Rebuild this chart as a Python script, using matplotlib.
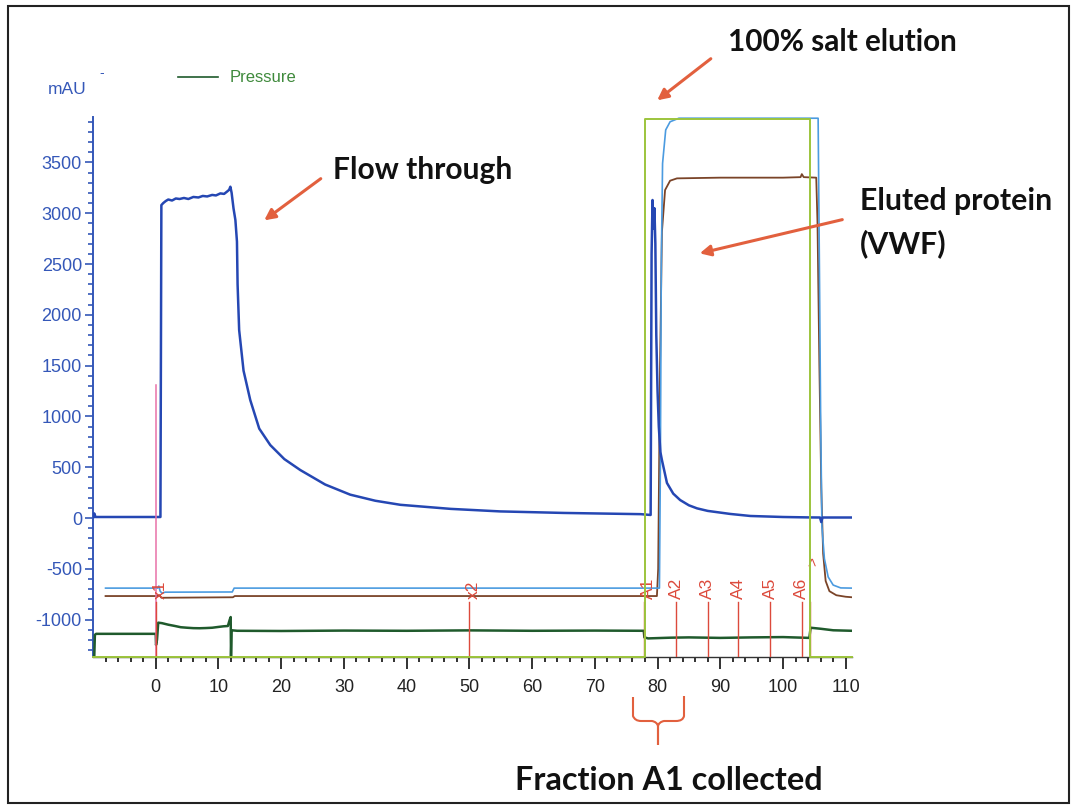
import matplotlib
matplotlib.use("Agg")
import matplotlib.pyplot as plt
from matplotlib.patches import FancyArrowPatch, PathPatch, Rectangle
from matplotlib.path import Path
from matplotlib.lines import Line2D

plt.rcParams["axes.unicode_minus"] = False

# ---------------- chromatogram traces (x in ml, y in mAU scale) ----------------
uv_time = [-9.9, -9.8, -9.6, 0.75, 0.9, 1.2, 1.6, 2.0, 2.6, 3.2, 3.8, 4.5, 5.2, 6.0,
           6.8, 7.5, 8.2, 9.0, 9.6, 10.3, 10.9, 11.35, 11.7, 11.9, 12.1, 12.4, 12.7,
           12.95, 13.05, 13.3, 14.0, 15.07, 16.5, 18.26, 20.5, 23.05, 27.0, 31.0,
           35.0, 39.0, 47.0, 54.9, 65.0, 77.3, 78.9, 79.05, 79.2, 79.35, 79.5, 79.65,
           79.8, 80.0, 80.2, 80.45, 80.7, 81.5, 82.5, 83.6, 85.0, 86.3, 88.0, 91.6,
           94.8, 100.0, 104.0, 105.9, 106.1, 106.3, 111.0]
uv_mau = [10, 45, 10, 10, 3080, 3100, 3120, 3135, 3125, 3145, 3140, 3150, 3140, 3160,
          3155, 3170, 3165, 3180, 3175, 3195, 3190, 3212, 3230, 3261, 3200, 3048, 2933,
          2720, 2300, 1850, 1450, 1161, 880, 718, 580, 472, 330, 230,
          170, 130, 90, 65, 50, 38, 30, 2600, 3130, 2850, 3050, 2700,
          1800, 1250, 900, 650, 570, 345, 240, 177, 125, 95, 70, 40,
          20, 10, 6, 5, -40, 5, 5]

cond_time = [-8.0, 0.3, 0.5, 0.7, 1.0, 1.5, 12.2, 12.5, 80.3, 80.45, 80.6, 80.8, 81.3,
             82.0, 83.4, 105.6, 105.8, 106.0, 106.2, 106.6, 107.2, 108.0, 109.2, 111.0]
cond_mau = [-690, -690, -670, -720, -740, -730, -728, -690, -690, 500, 2500, 3490, 3820,
            3900, 3935, 3935, 2500, 1000, -80, -400, -580, -660, -688, -690]

ph_time = [-8.0, 0.3, 0.6, 0.9, 12.3, 12.6, 79.9, 80.1, 80.4, 80.7, 81.2, 82.0, 83.1,
           90.0, 100.0, 102.8, 103.0, 103.3, 105.3, 105.5, 105.8, 106.1, 106.4, 106.8,
           107.4, 108.5, 110.0, 111.0]
ph_mau = [-768, -768, -760, -785, -780, -768, -768, -500, 1500, 2818, 3228, 3320, 3343,
          3350, 3350, 3355, 3385, 3355, 3350, 2900, 1500, 300, -350, -620,
          -720, -760, -775, -780]

pressure_time = [-9.8, -9.7, -9.5, 0.0, 0.05, 0.2, 0.4, 1.0, 2.0, 3.0, 4.0, 5.0, 6.0,
                 7.0, 8.0, 9.0, 10.0, 10.8, 11.5, 11.8, 11.95, 12.0, 12.1, 13.0, 20.0,
                 30.0, 40.0, 50.0, 60.0, 70.0, 77.8, 77.9, 78.5, 82.0, 85.0, 90.0, 95.0,
                 100.0, 104.2, 104.4, 106.0, 108.0, 111.0]
pressure_val = [-1368, -1150, -1140, -1140, -1250, -1200, -1030, -1035, -1050, -1062,
                -1075, -1080, -1084, -1085, -1083, -1080, -1072, -1066, -1063, -1000,
                -975, -1360, -1105, -1110, -1112, -1108, -1110, -1106, -1110, -1108,
                -1110, -1175, -1185, -1178, -1175, -1180, -1175, -1172, -1180, -1080,
                -1090, -1105, -1110]

conc_time = [-10.0, 77.95, 77.95, 104.3, 104.3, 111.0]
conc_pct = [0, 0, 100, 100, 0, 0]

frac_pos = [77.8, 83.0, 88.0, 92.9, 98.0, 103.0]
frac_labels = ["A1", "A2", "A3", "A4", "A5", "A6"]
waste_pos = 104.3
inject_marks = [0.0, 50.0]
inject_labels = ["x1", "x2"]

x_ticks = [0, 10, 20, 30, 40, 50, 60, 70, 80, 90, 100, 110]
y_ticks = [-1000, -500, 0, 500, 1000, 1500, 2000, 2500, 3000, 3500]

# ---------------- colours ----------------
C_UV = "#2547b3"
C_COND = "#4b9be0"
C_PH = "#7a4428"
C_PRESS = "#1f5a2c"
C_CONC = "#9cc43c"
C_FRAC = "#dc4a3c"
C_INJ = "#e872a8"
C_AXIS = "#3457b8"
C_NOTE = "#e2603e"

W, H = 1075, 809
fig = plt.figure(figsize=(W / 100, H / 100), dpi=100)
fig.patch.set_facecolor("white")


def fx(px):
    return px / W


def fy(py):
    return 1 - py / H


YMIN, YMAX = -1368, 3947
XMIN, XMAX = -10, 111

ax = fig.add_axes([fx(93), fy(657), (852 - 93) / W, (657 - 117) / H])
ax.set_xlim(XMIN, XMAX)
ax.set_ylim(YMIN, YMAX)
ax.set_facecolor("none")

for s in ("top", "right"):
    ax.spines[s].set_visible(False)
ax.spines["left"].set_color(C_AXIS)
ax.spines["left"].set_linewidth(1.4)
ax.spines["bottom"].set_color("#333333")
ax.spines["bottom"].set_linewidth(1.0)

ax.set_yticks(y_ticks)
ax.set_yticks(range(-1300, 3950, 100), minor=True)
ax.set_xticks(x_ticks)
ax.set_xticks(range(-8, 111, 2), minor=True)
ax.tick_params(axis="y", which="major", length=6, width=1.2, color=C_AXIS,
               labelcolor=C_AXIS, labelsize=13, pad=2)
ax.tick_params(axis="y", which="minor", length=3.5, width=1.2, color=C_AXIS)
ax.tick_params(axis="x", which="major", length=8.5, width=1.3, color="#222222",
               labelcolor="#222222", labelsize=13, pad=7)
ax.tick_params(axis="x", which="minor", length=3.5, width=1.3, color="#222222")
for lab in ax.get_xticklabels() + ax.get_yticklabels():
    lab.set_fontfamily("Liberation Sans")

# concentration step on its own 0-100 % scale
axc = ax.twinx()
axc.set_ylim(0, 100.3)
axc.axis("off")
axc.plot(conc_time, conc_pct, color=C_CONC, lw=1.4, clip_on=False, zorder=2)

# traces
ax.plot(pressure_time, pressure_val, color=C_PRESS, lw=1.8, zorder=3)
ax.plot(ph_time, ph_mau, color=C_PH, lw=1.3, zorder=3)
ax.plot(cond_time, cond_mau, color=C_COND, lw=1.2, zorder=4)
ax.plot(uv_time, uv_mau, color=C_UV, lw=1.8, zorder=5)

# fraction marks
for pos, lab in zip(frac_pos, frac_labels):
    ax.plot([pos, pos], [YMIN, -830], color=C_FRAC, lw=1.0, zorder=6)
    dx = 0.75 if lab == "A1" else 0.0
    ax.text(pos + dx, -800, lab, rotation=90, ha="center", va="bottom",
            color=C_FRAC, fontsize=12.5, fontfamily="Liberation Sans", zorder=7)
ax.plot([waste_pos, waste_pos], [YMIN, -830], color=C_FRAC, lw=1.0, zorder=6)
ax.text(waste_pos + 0.6, -470, ">", rotation=90, ha="center", va="bottom",
        color=C_FRAC, fontsize=11, fontfamily="Liberation Sans", zorder=7)

# injection marks
ax.plot([inject_marks[0]] * 2, [YMIN, 1310], color=C_INJ, lw=1.1, zorder=6)
for pos, lab in zip(inject_marks, inject_labels):
    ax.plot([pos, pos], [YMIN, -830], color=C_FRAC, lw=1.0, zorder=6)
    ax.text(pos + 0.7, -800, lab, rotation=90, ha="center", va="bottom",
            color=C_FRAC, fontsize=12.5, fontfamily="Liberation Sans", zorder=7)

# header: unit and legend
fig.text(fx(48), fy(90), "mAU", color=C_AXIS, fontsize=12.5,
         fontfamily="Liberation Sans", va="center", ha="left")
fig.text(fx(99), fy(73), "-", color=C_AXIS, fontsize=10,
         fontfamily="Liberation Sans", va="center", ha="left")
fig.add_artist(Line2D([fx(178), fx(218)], [fy(77), fy(77)], color=C_PRESS, lw=1.2))
fig.text(fx(230), fy(77), "Pressure", color="#3f8a3c", fontsize=12,
         fontfamily="Liberation Sans", va="center", ha="left")

# annotations, each sized to span its left..right pixel extent
renderer = fig.canvas.get_renderer()
NOTE_FONT = dict(fontfamily="Lato", fontweight="bold", color="#111111",
                 fontsize=20, va="center", ha="left")
notes = [("Flow through", 333, 512, 170),
         ("100% salt elution", 728, 957, 42),
         ("Eluted protein", 860, 1052, 201),
         ("(VWF)", 860, None, 244),
         ("Fraction A1 collected", 515, 822, 780)]
last_size = 20
for text, left, right, yc in notes:
    t = fig.text(fx(left), fy(yc), text, **NOTE_FONT)
    if right is not None:
        w = t.get_window_extent(renderer).width
        last_size = 20 * (right - left) / w
    t.set_fontsize(last_size)

for tail, head in [((323, 177), (262, 222)), ((713, 57), (655, 102)),
                   ((845, 219), (697, 254))]:
    fig.add_artist(FancyArrowPatch((fx(tail[0]), fy(tail[1])), (fx(head[0]), fy(head[1])),
                                   transform=fig.transFigure, arrowstyle="-|>",
                                   mutation_scale=16, color=C_NOTE, lw=2.2))

# brace under the first fraction
verts = [(633, 697), (633, 716), (635, 721), (641, 721), (652, 721), (657, 722),
         (658, 726), (658, 745), (658, 726), (659, 722), (664, 721), (676, 721),
         (683, 721), (684, 716), (684, 696)]
codes = [Path.MOVETO, Path.LINETO, Path.CURVE3, Path.CURVE3, Path.LINETO, Path.CURVE3,
         Path.CURVE3, Path.LINETO, Path.LINETO, Path.CURVE3, Path.CURVE3, Path.LINETO,
         Path.CURVE3, Path.CURVE3, Path.LINETO]
brace = Path([(fx(a), fy(b)) for a, b in verts], codes)
fig.add_artist(PathPatch(brace, transform=fig.transFigure, fill=False,
                         edgecolor=C_NOTE, lw=1.5))

# outer frame
fig.add_artist(Rectangle((fx(8), fy(803)), (1069 - 8) / W, (803 - 6) / H,
                         transform=fig.transFigure, fill=False,
                         edgecolor="#222222", lw=1.5))

fig.savefig("out.png", dpi=100, facecolor="white")
